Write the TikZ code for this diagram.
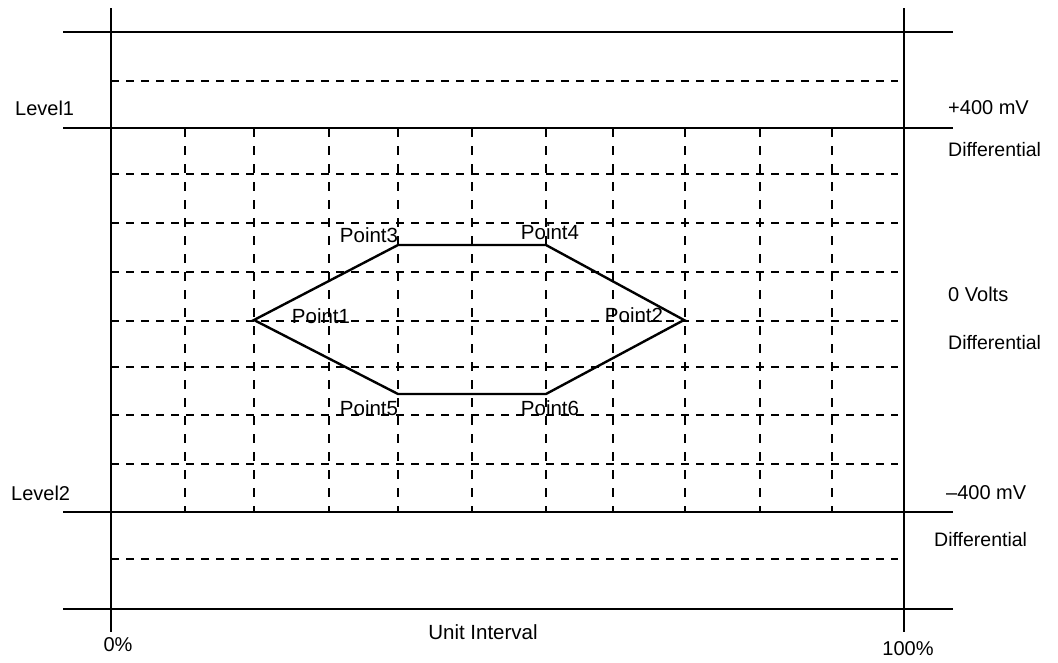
\documentclass[tikz,border=0pt]{standalone}
\usepackage{fontspec}
\setmainfont{Liberation Sans}
\begin{document}
\begin{tikzpicture}[x=1pt,y=-1pt,
  solidline/.style={line width=2pt},
  gridline/.style={line width=2pt,dash pattern=on 7.5pt off 7.5pt},
  vgridline/.style={line width=2pt,dash pattern=on 9pt off 9pt},
  shapeline/.style={line width=2.4pt,line join=miter},
  lbl/.style={font=\fontsize{20}{23}\selectfont,inner sep=0pt},
  dlbl/.style={font=\fontsize{19.5}{23}\selectfont,inner sep=0pt},
  plbl/.style={font=\fontsize{20.5}{23}\selectfont,inner sep=0pt}]
\useasboundingbox (0,0) rectangle (1058,662);
% dashed horizontals
\foreach \y in {81,174,223,272,321,367,415,464,559}
  \draw[gridline] (111,\y) -- (898,\y);
% dashed verticals
\foreach \x in {185,254,329,398,472,546,613,685,760,832}
  \draw[vgridline] (\x,128) -- (\x,512);
% solid frame
\draw[solidline] (111,8) -- (111,632);
\draw[solidline] (904,8) -- (904,632);
\draw[solidline] (63,32) -- (953,32);
\draw[solidline] (63,128) -- (953,128);
\draw[solidline] (63,512) -- (953,512);
\draw[solidline] (63,609) -- (953,609);
% hexagon
\coordinate (p1) at (254,320);
\coordinate (p3) at (398,245);
\coordinate (p4) at (546,245);
\coordinate (p2) at (684,320);
\coordinate (p6) at (546,394);
\coordinate (p5) at (398,394);
\draw[shapeline] (p1) -- (p3) -- (p4) -- (p2) -- (p6) -- (p5) -- cycle;
% point labels
\node[plbl] (l1) at (321,316) {Point1};
\node[plbl] (l2) at (634,315) {Point2};
\node[plbl] (l3) at (369,235) {Point3};
\node[plbl] (l4) at (550,232) {Point4};
\node[plbl] (l5) at (369,408) {Point5};
\node[plbl] (l6) at (550,408) {Point6};
% side labels
\node[lbl,anchor=west] (lev1) at (15,108) {Level1};
\node[lbl,anchor=west] (lev2) at (11,493) {Level2};
\node[lbl,anchor=west] (r1) at (948,108) {+400 mV};
\node[dlbl,anchor=west] (r2) at (948,150) {Differential};
\node[lbl,anchor=west] (r3) at (948,294) {0 Volts};
\node[dlbl,anchor=west] (r4) at (948,343) {Differential};
\node[lbl,anchor=west] (r5) at (946,493) {–400 mV};
\node[dlbl,anchor=west] (r6) at (934,540) {Differential};
\node[lbl] (p0) at (118,645) {0\%};
\node[lbl] (p100) at (908,649) {100\%};
\node[plbl] (ui) at (483,632) {Unit Interval};
\end{tikzpicture}
\end{document}
